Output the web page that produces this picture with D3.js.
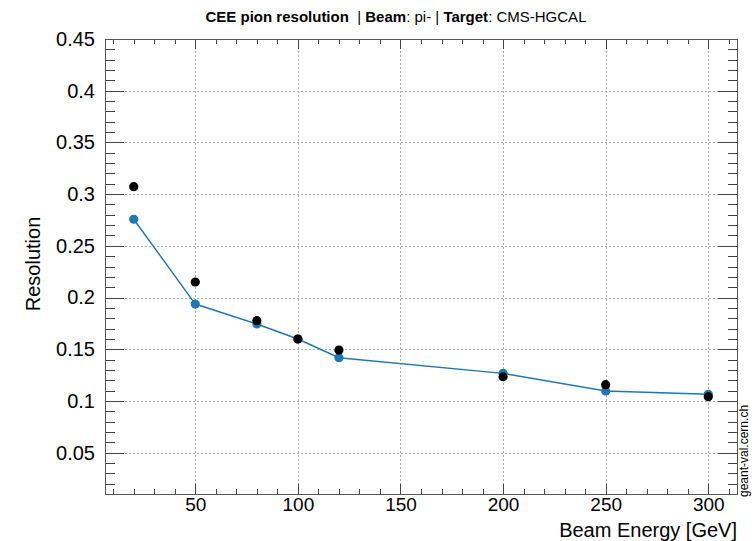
<!DOCTYPE html>
<html>
<head>
<meta charset="utf-8">
<script src="https://cdn.jsdelivr.net/npm/d3@7"></script>
<style>
  body { margin: 0; background: #fff; }
  svg { font-family: "Liberation Sans", Arial, Helvetica, sans-serif; }
  .axis path { display: none; }
  .axis line { stroke: #444; shape-rendering: crispEdges; }
  .axis text { fill: #000; }
  .grid line { stroke: #aaa; stroke-dasharray: 2,2; shape-rendering: crispEdges; }
</style>
</head>
<body>
<div id="chart"></div>
<script>
// beam energies [GeV]
const energies = [20, 50, 80, 100, 120, 200, 250, 300];
// simulated pion resolution (blue, joined)
const simRes = [0.2757, 0.1937, 0.1744, 0.1599, 0.1418, 0.1267, 0.1096, 0.1064];
// reference / data points (black)
const refRes = [0.3072, 0.215, 0.1776, 0.1599, 0.1492, 0.1234, 0.1157, 0.1041];

const xTicks = [50, 100, 150, 200, 250, 300];
const yTicks = [0.05, 0.1, 0.15, 0.2, 0.25, 0.3, 0.35, 0.4, 0.45];
const yTickLabels = ['0.05', '0.1', '0.15', '0.2', '0.25', '0.3', '0.35', '0.4', '0.45'];

const width = 756, height = 541;
const margin = { top: 39, right: 19, bottom: 47, left: 105 };
const adjWidth = width - margin.left - margin.right;
const adjHeight = height - margin.top - margin.bottom;

const svg = d3.select('#chart').append('svg')
  .attr('width', width)
  .attr('height', height);

const g = svg.append('g')
  .attr('transform', 'translate(' + margin.left + ',' + margin.top + ')');

const x = d3.scaleLinear().domain([6, 314]).range([0, adjWidth]);
const y = d3.scaleLinear().domain([0.01, 0.45]).range([adjHeight, 0]);

const xMinor = d3.range(10, 314, 10).filter(v => v % 50 !== 0);
const yMinor = d3.range(1, 45).map(v => v / 100).filter(v => Math.round(v * 100) % 5 !== 0);

// grid
g.append('g').attr('class', 'grid')
  .selectAll('line').data(xTicks).enter().append('line')
  .attr('x1', d => Math.round(x(d)) + 0.5).attr('x2', d => Math.round(x(d)) + 0.5)
  .attr('y1', 0).attr('y2', adjHeight);
g.append('g').attr('class', 'grid')
  .selectAll('line').data(yTicks.slice(0, -1)).enter().append('line')
  .attr('y1', d => Math.round(y(d)) + 0.5).attr('y2', d => Math.round(y(d)) + 0.5)
  .attr('x1', 0).attr('x2', adjWidth);

// axes, ticks pointing inward like ROOT
g.append('g').attr('class', 'axis')
  .attr('transform', 'translate(0,' + adjHeight + ')')
  .call(d3.axisBottom(x).tickValues(xTicks).tickSize(-10).tickPadding(3).tickFormat(d3.format('d')))
  .selectAll('text').style('font-size', '19px');
g.append('g').attr('class', 'axis')
  .attr('transform', 'translate(0,' + adjHeight + ')')
  .call(d3.axisBottom(x).tickValues(xMinor).tickSize(-5).tickFormat(''));
g.append('g').attr('class', 'axis')
  .call(d3.axisTop(x).tickValues(xTicks).tickSize(-10).tickFormat(''));
g.append('g').attr('class', 'axis')
  .call(d3.axisTop(x).tickValues(xMinor).tickSize(-5).tickFormat(''));

g.append('g').attr('class', 'axis')
  .call(d3.axisLeft(y).tickValues(yTicks).tickSize(-19).tickPadding(10)
    .tickFormat((d, i) => yTickLabels[i]))
  .selectAll('text').style('font-size', '20px');
g.append('g').attr('class', 'axis')
  .call(d3.axisLeft(y).tickValues(yMinor).tickSize(-9.5).tickFormat(''));
g.append('g').attr('class', 'axis')
  .attr('transform', 'translate(' + adjWidth + ',0)')
  .call(d3.axisRight(y).tickValues(yTicks).tickSize(-19).tickFormat(''));
g.append('g').attr('class', 'axis')
  .attr('transform', 'translate(' + adjWidth + ',0)')
  .call(d3.axisRight(y).tickValues(yMinor).tickSize(-9.5).tickFormat(''));

// frame
g.append('rect')
  .attr('x', 0.5).attr('y', 0.5)
  .attr('width', adjWidth).attr('height', adjHeight)
  .attr('fill', 'none').attr('stroke', '#555')
  .attr('shape-rendering', 'crispEdges');

// simulated series
const line = d3.line()
  .x((d, i) => x(energies[i]))
  .y(d => y(d));

g.append('path')
  .datum(simRes)
  .attr('fill', 'none')
  .attr('stroke', '#1f77b4')
  .attr('stroke-width', 1.4)
  .attr('d', line);

g.append('g').selectAll('circle')
  .data(simRes).enter().append('circle')
  .attr('cx', (d, i) => x(energies[i]))
  .attr('cy', d => y(d))
  .attr('r', 4.6)
  .attr('fill', '#1f77b4');

g.append('g').selectAll('circle')
  .data(refRes).enter().append('circle')
  .attr('cx', (d, i) => x(energies[i]))
  .attr('cy', d => y(d))
  .attr('r', 4.6)
  .attr('fill', '#000');

// texts
svg.append('text')
  .attr('x', margin.left + adjWidth)
  .attr('y', 537)
  .attr('text-anchor', 'end')
  .style('font-size', '20px')
  .text('Beam Energy [GeV]');

svg.append('text')
  .attr('transform', 'translate(40,' + (margin.top + 225) + ') rotate(-90)')
  .attr('text-anchor', 'middle')
  .style('font-size', '20px')
  .text('Resolution');

const title = svg.append('text')
  .attr('x', 396)
  .attr('y', 22)
  .attr('text-anchor', 'middle')
  .style('font-size', '15px');
title.append('tspan').style('font-weight', 'bold').text('CEE pion resolution');
title.append('tspan').attr('xml:space', 'preserve').text('  | ');
title.append('tspan').style('font-weight', 'bold').text('Beam');
title.append('tspan').text(': pi- | ');
title.append('tspan').style('font-weight', 'bold').text('Target');
title.append('tspan').text(': CMS-HGCAL');

svg.append('text')
  .attr('transform', 'translate(748,497) rotate(-90)')
  .attr('text-anchor', 'start')
  .style('font-size', '12px')
  .text('geant-val.cern.ch');
</script>
</body>
</html>
